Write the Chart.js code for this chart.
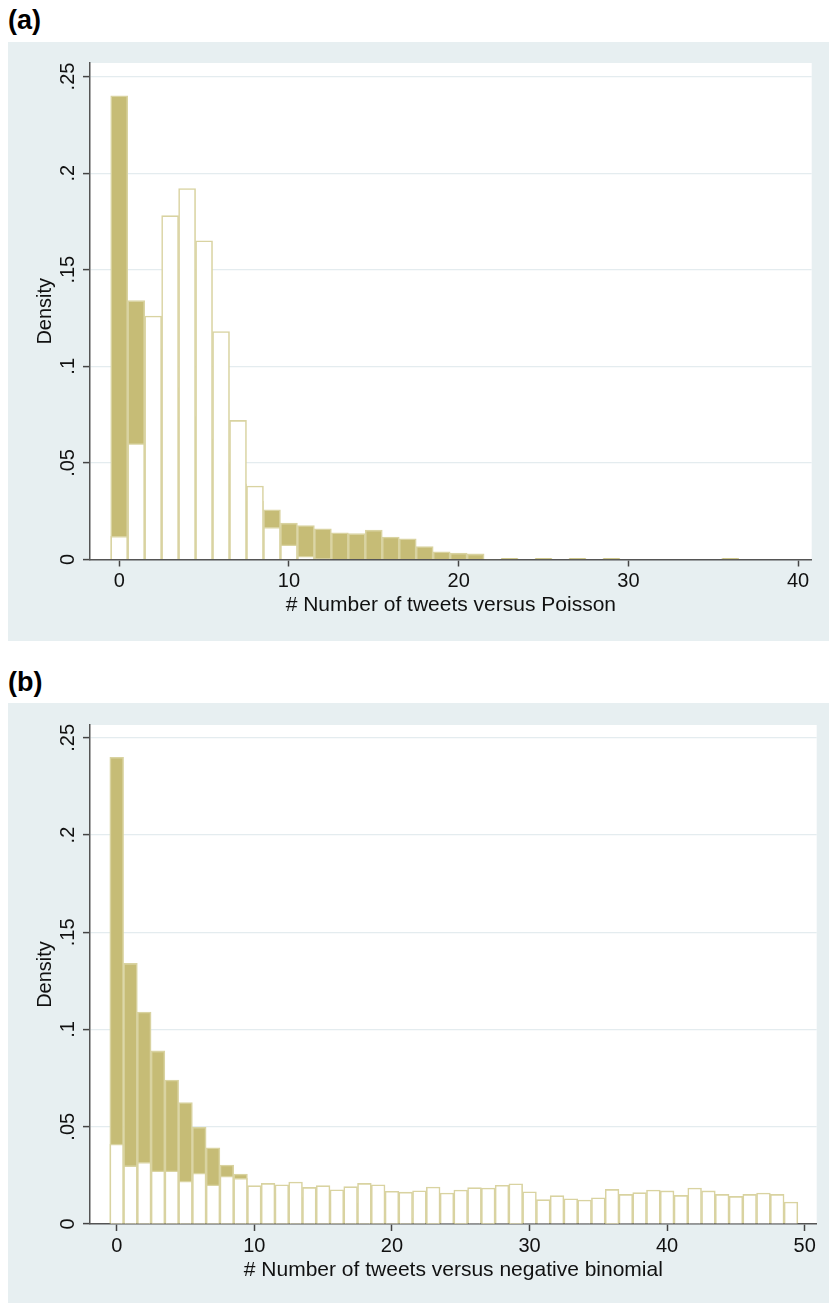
<!DOCTYPE html>
<html>
<head>
<meta charset="utf-8">
<script src="https://cdn.jsdelivr.net/npm/chart.js@4.4.1/dist/chart.umd.min.js"></script>
<style>
body { margin:0; background:#fff; width:829px; height:1303px; position:relative; overflow:hidden; font-family:"Liberation Sans", Arial, sans-serif; }
.rotulo { position:absolute; left:8px; font-weight:bold; font-size:27px; color:#000; }
.painel { position:absolute; left:8px; width:821px; background:#e7eff1; }
canvas { display:block; }
</style>
</head>
<body>
<div class="rotulo" style="top:5px">(a)</div>
<div class="painel" style="top:42px;height:599px"><canvas id="graficoA" width="821" height="599"></canvas></div>
<div class="rotulo" style="top:667px">(b)</div>
<div class="painel" style="top:703px;height:600px"><canvas id="graficoB" width="821" height="600"></canvas></div>
<script>
// densidade observada por numero de tweets (0, 1, 2, ...)
var densObservada = [0.24, 0.134, 0.109, 0.089, 0.074, 0.0625, 0.0497, 0.0392, 0.0303, 0.0257,
  0.0188, 0.0176, 0.0159, 0.0138, 0.0134, 0.0152, 0.0116, 0.0107, 0.0067, 0.004,
  0.0033, 0.0029, 0.0003, 0.0006, null, 0.0006, null, 0.0006, null, 0.0006,
  null, null, null, null, null, null, 0.0006];

// Poisson
var densPoisson = [0.012, 0.06, 0.126, 0.178, 0.192, 0.165, 0.118, 0.072, 0.038, 0.0167,
  0.0076, 0.0016, 0.0004];

// binomial negativa
var densBinomNeg = [0.0411, 0.030, 0.0317, 0.0274, 0.0274, 0.0221, 0.0262, 0.0202, 0.0247, 0.0235,
  0.0197, 0.0209, 0.0202, 0.0216, 0.0188, 0.0197, 0.0176, 0.0192, 0.0209, 0.0202,
  0.0168, 0.0164, 0.0171, 0.019, 0.0159, 0.0175, 0.0187, 0.0185, 0.0199, 0.0207,
  0.0166, 0.0125, 0.0146, 0.013, 0.0123, 0.0135, 0.0178, 0.0152, 0.0161, 0.0175,
  0.017, 0.0147, 0.0185, 0.017, 0.0152, 0.0142, 0.0152, 0.0159, 0.0152, 0.0113];

var ticksXA = [0, 10, 20, 30, 40];
var ticksXB = [0, 10, 20, 30, 40, 50];
var ticksY = [0, 0.05, 0.1, 0.15, 0.2, 0.25];
var rotulosY = ['0', '.05', '.1', '.15', '.2', '.25'];

var corBarra = '#c6bc76';
var corBorda = '#d9d3a1';
var fonte = { family: '"Liberation Sans", Arial, sans-serif', size: 20 };
var fonteTitulo = { family: '"Liberation Sans", Arial, sans-serif', size: 21 };

function pontos(serie) {
  var lista = [];
  serie.forEach(function (v, i) {
    if (v !== null) lista.push({ x: i, y: v });
  });
  return lista;
}

// area do grafico em branco
var fundoBranco = {
  id: 'fundoBranco',
  beforeDraw: function (chart) {
    var a = chart.chartArea;
    var ctx = chart.ctx;
    ctx.save();
    ctx.fillStyle = '#fff';
    ctx.fillRect(a.left, a.top, a.right - a.left, a.bottom - a.top);
    ctx.restore();
  }
};

function fazerGrafico(id, modelo, tituloX, ticksX, limX, maxY, caixa) {
  return new Chart(document.getElementById(id), {
    type: 'bar',
    data: {
      datasets: [
        {
          data: pontos(modelo),
          backgroundColor: '#ffffff',
          borderColor: corBorda,
          borderWidth: 1.6,
          grouped: false,
          order: 0,
          barPercentage: 1,
          categoryPercentage: 1
        },
        {
          data: pontos(densObservada),
          backgroundColor: corBarra,
          borderColor: corBorda,
          borderWidth: 1.6,
          grouped: false,
          order: 1,
          barPercentage: 1,
          categoryPercentage: 1
        }
      ]
    },
    options: {
      responsive: false,
      animation: false,
      layout: { padding: { top: caixa.topo, right: caixa.direita, left: 0, bottom: 0 } },
      plugins: { legend: { display: false }, tooltip: { enabled: false } },
      scales: {
        x: {
          type: 'linear',
          min: limX[0],
          max: limX[1],
          offset: false,
          afterFit: function (s) { s.height = caixa.baixo; },
          afterBuildTicks: function (s) { s.ticks = ticksX.map(function (v) { return { value: v }; }); },
          grid: { offset: false, drawOnChartArea: false, tickLength: 7, tickColor: '#444', tickWidth: 1.5 },
          border: { color: '#555', width: 1.5 },
          ticks: {
            color: '#111', font: fonte, padding: 3, maxRotation: 0, autoSkip: false,
            callback: function (v) { return String(v); }
          },
          title: { display: true, text: tituloX, color: '#111', font: fonteTitulo, padding: { top: 0, bottom: caixa.padTitulo } }
        },
        y: {
          min: 0,
          max: maxY,
          afterFit: function (s) { s.width = 82; },
          afterBuildTicks: function (s) { s.ticks = ticksY.map(function (v) { return { value: v }; }); },
          grid: { color: '#e4ecef', lineWidth: 1.2, tickLength: 7, tickColor: '#444', tickWidth: 1.5 },
          border: { color: '#555', width: 1.5 },
          ticks: {
            color: '#111', font: fonte, minRotation: 90, maxRotation: 90, crossAlign: 'center', padding: 1,
            callback: function (v, i) { return rotulosY[i]; }
          },
          title: { display: true, text: 'Density', color: '#111', font: fonte, padding: { top: 25, bottom: 0 } }
        }
      }
    },
    plugins: [fundoBranco]
  });
}

var graficoA = fazerGrafico('graficoA', densPoisson, '# Number of tweets versus Poisson',
  ticksXA, [-1.72, 40.8], 0.257, { topo: 21, direita: 17.3, baixo: 81.5, padTitulo: 23 });

var graficoB = fazerGrafico('graficoB', densBinomNeg, '# Number of tweets versus negative binomial',
  ticksXB, [-1.94, 50.87], 0.2566, { topo: 22, direita: 12.3, baixo: 79, padTitulo: 20 });
</script>
</body>
</html>
